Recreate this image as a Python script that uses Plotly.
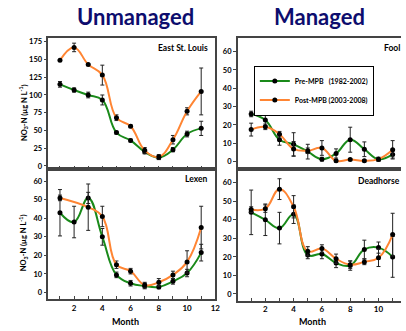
import plotly.graph_objects as go

months = list(range(1, 12))

# East St. Louis (unmanaged)
esl_pre = [115, 107, 100, 93, 47, 36, 20, 12, 23, 45, 53]
esl_pre_err = [4, 3, 4, 7, 2, 2, 3, 3, 3, 4, 10]
esl_post = [149, 167, 143, 128, 68, 56, 22, 13, 37, 77, 105]
esl_post_err = [1, 6, 1, 14, 4, 2, 4, 3, 6, 5, 33]

# Lexen (unmanaged)
lex_pre = [43, 38, 51, 30, 9.5, 5, 3.5, 3, 6, 10.5, 21.5]
lex_pre_err = [12.5, 8.5, 3, 4.5, 1.5, 1.5, 1.5, 1, 1.5, 2, 4.5]
lex_post = [51, None, 46, 41, 15, 11.5, 4, 5.5, 9.5, 16.5, 35]
lex_post_err = [1.5, None, 12.5, 5.5, 2, 1.5, 1.5, 2, 2, 6, 11.5]

# Fool (managed)
fool_pre = [26, 22.7, 12, 9.5, 5.5, 1.4, 4.5, 12, 6.8, 1.4, 4]
fool_pre_err = [1.5, 3, 3, 6.3, 4, 1, 2.5, 6.8, 4, 1, 2]
fool_post = [17.5, 19, 15, 7, 6, 7.5, 0.5, 1.2, 0.5, 1.4, 6.5]
fool_post_err = [3.5, 1.5, 1.5, 4, 1.5, 4, 0.5, 0.5, 0.5, 1, 5]

# Deadhorse (managed)
dh_pre = [44, 40, 35.5, 43, 21, 21.5, 16.7, 15.3, 24, 25, 20]
dh_pre_err = [12, 8.5, 8.5, 5, 2, 2.5, 2.5, 2.5, 5, 3, 11]
dh_post = [45.5, 46, 56.5, 47, 23, 24.5, 19, 15.8, 17.3, 19.5, 32]
dh_post_err = [1.5, 2, 5.6, 6, 2.5, 2, 2.5, 2, 1.5, 4.7, 11.5]

pre_name = "Pre-MPB\u00a0\u00a0\u00a0(1982-2002)"
post_name = "Post-MPB (2003-2008)"
panel_names = ["East St. Louis", "Fool", "Lexen", "Deadhorse"]

GREEN = "#1a8a1a"
ORANGE = "#ff8533"
FONT = "Lato"

W, H = 406, 331
fig = go.Figure()

def px_x(a, b):
    return [a / W, b / W]

def px_y(top, bottom):
    return [1 - bottom / H, 1 - top / H]

panels = [
    ("x", "y", esl_pre, esl_pre_err, esl_post, esl_post_err, px_x(49, 218), px_y(38, 170), [0.18, 12], [-4.2, 180.6], list(range(0, 176, 25)), False, False, True),
    ("x2", "y2", fool_pre, fool_pre_err, fool_post, fool_post_err, px_x(240.7, 406), px_y(38.5, 170.5), [0.05, 11.59], [-4.2, 67.2], list(range(0, 61, 10)), True, False, False),
    ("x3", "y3", lex_pre, lex_pre_err, lex_post, lex_post_err, px_x(49, 218), px_y(170, 301), [0.18, 12], [-3.6, 66.6], list(range(0, 61, 10)), False, True, True),
    ("x4", "y4", dh_pre, dh_pre_err, dh_post, dh_post_err, px_x(240.7, 406), px_y(170.5, 302.5), [0.05, 11.59], [-3.6, 67.1], list(range(0, 61, 10)), False, True, False),
]

for i, (xa, ya, pre, pre_e, post, post_e, xd, yd, xr, yr, yt, leg, bottom, left) in enumerate(panels):
    for vals, errs, color, name in ((pre, pre_e, GREEN, pre_name), (post, post_e, ORANGE, post_name)):
        fig.add_trace(go.Scatter(
            x=months, y=vals, xaxis=xa, yaxis=ya, name=name,
            mode="lines+markers", connectgaps=True,
            line=dict(color=color, width=2, shape="spline", smoothing=1.2),
            marker=dict(color="black", size=5),
            error_y=dict(type="data", array=errs, color="#222222", thickness=1, width=2),
            showlegend=leg,
        ))
    sfx = "" if i == 0 else str(i + 1)
    if bottom:
        tickvals = list(range(1, 13))
        ticktext = [str(m) if m % 2 == 0 else "" for m in tickvals]
    else:
        tickvals = list(range(1, 12))
        ticktext = [""] * len(tickvals)
    fig.layout["xaxis" + sfx] = dict(
        domain=xd, range=xr, anchor=ya, showgrid=False, zeroline=False,
        showline=True, linecolor="#444444", linewidth=1.5, mirror=True,
        ticks="inside", ticklen=3, tickcolor="#444444",
        tickvals=tickvals, ticktext=ticktext,
        tickfont=dict(family=FONT, size=8, color="black", weight="bold"),
    )
    fig.layout["yaxis" + sfx] = dict(
        domain=yd, range=yr, anchor=xa, showgrid=False, zeroline=False,
        showline=True, linecolor="#444444", linewidth=1.5, mirror=left,
        ticks="outside", ticklen=3, tickcolor="#444444", tickvals=yt,
        tickfont=dict(family=FONT, size=7.5, color="black", weight="bold"),
    )

def ann(text, x, y, size, color="black", xanchor="center", bold=True, angle=0):
    return dict(text=text, x=x / W, y=1 - y / H, xref="paper", yref="paper",
                xanchor=xanchor, yanchor="middle", showarrow=False, textangle=angle,
                font=dict(family=FONT, size=size, color=color, weight="bold" if bold else "normal"))

ylab = "NO<sub>3</sub>-N (µg N L<sup>-1</sup>)"
annotations = [
    ann("Unmanaged", 137, 17, 22, color="#0d0d6e"),
    ann("Managed", 323, 17, 22, color="#0d0d6e"),
    ann(panel_names[0], 213, 48, 8.5, xanchor="right"),
    ann(panel_names[1], 407, 48, 8.5, xanchor="right"),
    ann(panel_names[2], 212, 180, 8.5, xanchor="right"),
    ann(panel_names[3], 407, 182, 8.5, xanchor="right"),
    ann(ylab, 24, 113, 7.5, angle=-90),
    ann(ylab, 24, 244, 7.5, angle=-90),
    ann("Month", 127, 323, 9),
    ann("Month", 316, 323, 9),
]

fig.update_layout(
    width=W, height=H, margin=dict(l=0, r=0, t=0, b=0),
    paper_bgcolor="white", plot_bgcolor="white",
    annotations=annotations,
    showlegend=True,
    legend=dict(x=257 / W, y=1 - 66 / H, xanchor="left", yanchor="top",
                bordercolor="black", borderwidth=1, bgcolor="white",
                font=dict(family=FONT, size=7, color="black", weight="bold"),
                itemwidth=30, tracegroupgap=0),
)

fig.write_html("out.html", config={"displayModeBar": False})

with open("out.html", "r", encoding="utf-8") as f:
    html = f.read()
html = html.replace("<head>", "<head><style>html,body{margin:0;padding:0;overflow:hidden;}</style>", 1)
with open("out.html", "w", encoding="utf-8") as f:
    f.write(html)
